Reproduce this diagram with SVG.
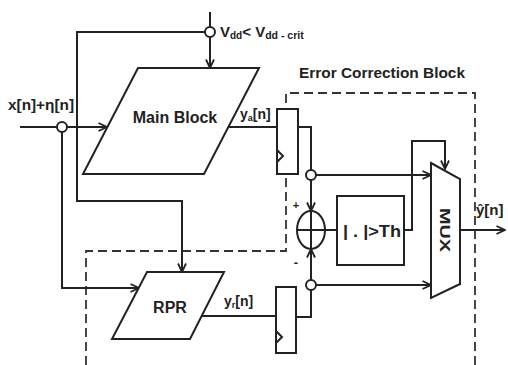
<svg xmlns="http://www.w3.org/2000/svg" width="508" height="365" viewBox="0 0 508 365">
<style>
.ln{fill:none;stroke:#222;stroke-width:2}
.blk{fill:#fff;stroke:#222;stroke-width:2}
.dash{fill:none;stroke:#333;stroke-width:1.8;stroke-dasharray:9 5}
.t{font-family:"Liberation Sans",Arial,sans-serif;font-weight:bold;fill:#222}
</style>
<defs>
<marker id="arr" viewBox="0 0 10 10" refX="9.5" refY="5" markerWidth="10" markerHeight="10" markerUnits="userSpaceOnUse" orient="auto">
<path d="M1,1 L9.5,5 L1,9" fill="none" stroke="#222" stroke-width="1.8"/>
</marker>
</defs>
<rect width="508" height="365" fill="#fff"/>
<g id="ecb-boundary">
<path class="dash" d="M86,365 V251 H286 V93 H475 V365"/>
<text class="t" x="299" y="78" font-size="15" textLength="166" lengthAdjust="spacingAndGlyphs">Error Correction Block</text>
</g>
<g id="connectors">
<path class="ln" d="M210,12 V27"/>
<path class="ln" d="M210,37 V68" marker-end="url(#arr)"/>
<path class="ln" d="M205,32 H77 V201 H182 V272" marker-end="url(#arr)"/>
<path class="ln" d="M20,127 H57"/>
<path class="ln" d="M67,127 H107" marker-end="url(#arr)"/>
<path class="ln" d="M62,132 V288 H139" marker-end="url(#arr)"/>
<path class="ln" d="M228,127 H277"/>
<path class="ln" d="M298,127 H311 V170"/>
<path class="ln" d="M316,175 H431" marker-end="url(#arr)"/>
<path class="ln" d="M311,180 V211" marker-end="url(#arr)"/>
<path class="ln" d="M201,316 H276"/>
<path class="ln" d="M296,317 H311 V290"/>
<path class="ln" d="M316,285 H431" marker-end="url(#arr)"/>
<path class="ln" d="M311,280 V249" marker-end="url(#arr)"/>
<path class="ln" d="M325,230 H337"/>
<path class="ln" d="M404,230 H412 V141 H445 V169" marker-end="url(#arr)"/>
<path class="ln" d="M460,230 H505" marker-end="url(#arr)"/>
</g>
<g id="vdd-tap">
<circle class="blk" cx="210" cy="32" r="5"/>
<text class="t" x="220" y="37" font-size="15">V<tspan font-size="10" dy="2">dd</tspan><tspan dy="-2">&lt; V</tspan><tspan font-size="10.5" dy="2">dd - crit</tspan></text>
</g>
<g id="input">
<text class="t" x="8" y="110" font-size="15" textLength="66" lengthAdjust="spacingAndGlyphs">x[n]+η[n]</text>
<circle class="blk" cx="62" cy="127" r="5"/>
</g>
<g id="main-block">
<polygon class="blk" points="138,68 259,68 204,174 83,174"/>
<text class="t" x="175" y="123" font-size="16" text-anchor="middle">Main Block</text>
<text class="t" x="240" y="119" font-size="14">y<tspan font-size="9" dy="2">a</tspan><tspan dy="-2">[n]</tspan></text>
</g>
<g id="rpr">
<polygon class="blk" points="147,272 224,272 190,339 112,339"/>
<text class="t" x="170" y="313" font-size="16" text-anchor="middle">RPR</text>
<text class="t" x="224" y="306" font-size="14">y<tspan font-size="9" dy="2">r</tspan><tspan dy="-2">[n]</tspan></text>
</g>
<g id="reg-a">
<rect class="blk" x="277" y="109" width="21" height="65"/>
<path class="ln" d="M277,150 L283,156 L277,162"/>
</g>
<g id="reg-r">
<rect class="blk" x="276" y="287" width="20" height="66"/>
<path class="ln" d="M276,331 L282,337 L276,343"/>
</g>
<g id="tap-a"><circle class="blk" cx="311" cy="175" r="5"/></g>
<g id="tap-r"><circle class="blk" cx="311" cy="285" r="5"/></g>
<g id="adder">
<ellipse class="blk" cx="311" cy="230" rx="14" ry="19"/>
<path class="ln" d="M297,230 H325 M311,211 V249"/>
<text class="t" x="296" y="209" font-size="11" text-anchor="middle">+</text>
<text class="t" x="296" y="267" font-size="13" text-anchor="middle">-</text>
</g>
<g id="threshold">
<rect class="blk" x="337" y="196" width="67" height="69"/>
<text class="t" x="372" y="237" font-size="16" text-anchor="middle" textLength="58" lengthAdjust="spacingAndGlyphs">| . |&gt;Th</text>
</g>
<g id="mux">
<polygon class="blk" points="431,163 460,179 460,284 431,298"/>
<text class="t" font-size="15" text-anchor="middle" transform="translate(440,230) rotate(90)" textLength="44" lengthAdjust="spacingAndGlyphs">MUX</text>
</g>
<g id="output">
<text class="t" x="476" y="215" font-size="15">ŷ[n]</text>
</g>
</svg>
